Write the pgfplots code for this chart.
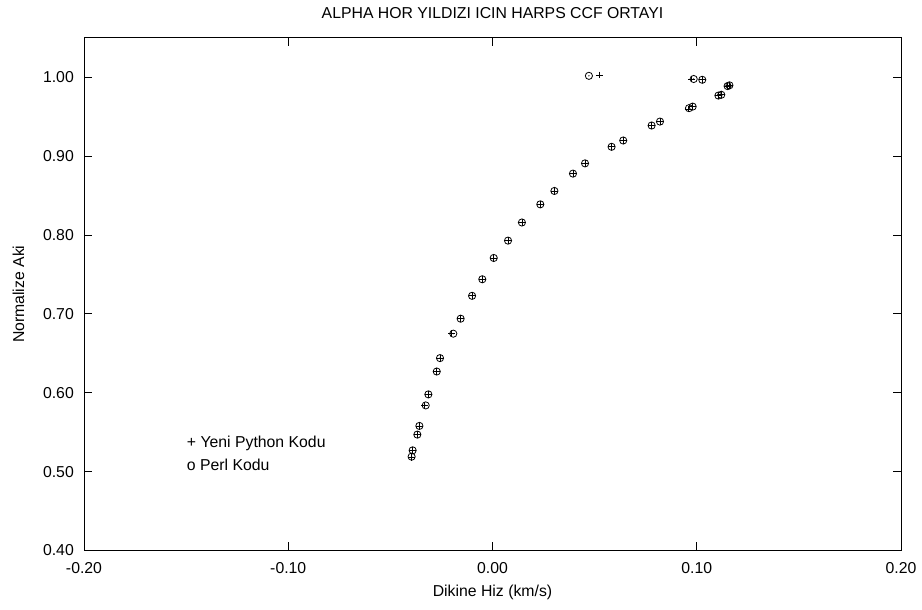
\documentclass[border=0pt]{standalone}
\usepackage{fontspec}
\setmainfont{Liberation Sans}
\usepackage{pgfplots}
\pgfplotsset{compat=1.18}

% circle with a centre dot (Perl points)
\pgfdeclareplotmark{odot}{%
  \pgfpathcircle{\pgfpointorigin}{\pgfplotmarksize}\pgfusepathqstroke
  \pgfpathcircle{\pgfpointorigin}{0.7bp}\pgfusepathqfill}

\pgfplotstableread{
x y
-0.0396 0.519
-0.0391 0.527
-0.0368 0.547
-0.0358 0.558
-0.0327 0.584
-0.0314 0.598
-0.0273 0.627
-0.0257 0.644
-0.0192 0.675
-0.0156 0.694
-0.0100 0.723
-0.0050 0.744
0.0006 0.771
0.0076 0.793
0.0144 0.816
0.0234 0.839
0.0303 0.856
0.0394 0.878
0.0453 0.891
0.0583 0.912
0.0640 0.920
0.0779 0.939
0.0820 0.944
0.0962 0.961
0.0980 0.963
0.1106 0.977
0.1120 0.978
0.1151 0.989
0.1160 0.990
0.0985 0.998
0.1027 0.997
0.0472 1.002
}\perl

\pgfplotstableread{
x y
-0.0398 0.518
-0.0391 0.527
-0.0368 0.547
-0.0358 0.558
-0.0333 0.584
-0.0314 0.598
-0.0273 0.627
-0.0257 0.644
-0.0200 0.675
-0.0156 0.694
-0.0100 0.723
-0.0050 0.744
0.0006 0.771
0.0076 0.793
0.0144 0.816
0.0234 0.839
0.0303 0.856
0.0394 0.878
0.0453 0.891
0.0583 0.912
0.0640 0.920
0.0779 0.939
0.0820 0.944
0.0958 0.960
0.0980 0.963
0.1106 0.977
0.1120 0.978
0.1151 0.989
0.1160 0.990
0.0974 0.998
0.1027 0.997
0.0523 1.003
}\python

\begin{document}
\begin{tikzpicture}
\useasboundingbox (0,0) rectangle (922bp,610bp);
\begin{axis}[
  at={(84bp,59.5bp)}, anchor=south west,
  scale only axis,
  width=817bp, height=512.5bp,
  xmin=-0.2, xmax=0.2,
  ymin=0.4, ymax=1.05,
  xtick={-0.2,-0.1,0,0.1,0.2},
  xticklabels={-0.20,-0.10,0.00,0.10,0.20},
  ytick={0.4,0.5,0.6,0.7,0.8,0.9,1.0},
  yticklabels={0.40,0.50,0.60,0.70,0.80,0.90,1.00},
  tick align=inside,
  major tick length=8bp,
  axis line style={line width=1bp},
  tick style={line width=1bp, black},
  font=\fontsize{15.8bp}{19bp}\selectfont,
  xticklabel style={anchor=base, yshift=-23bp, inner sep=0pt},
  yticklabel style={anchor=east, xshift=-10bp, inner sep=0pt},
  title={ALPHA HOR YILDIZI ICIN HARPS CCF ORTAYI},
  title style={at={(axis description cs:0.5,1.0254)}, anchor=base, inner sep=0pt},
  xlabel={Dikine Hiz (km/s)},
  xlabel style={at={(axis description cs:0.5,-0.0901)}, anchor=base, inner sep=0pt},
  ylabel={Normalize Aki},
  ylabel style={at={(axis description cs:-0.0734,0.5)}, anchor=base, rotate=0, inner sep=0pt},
  clip=false,
]
\addplot[only marks, mark=+, mark size=3.4bp, line width=0.8bp, black] table[x=x, y=y] {\python};
\addplot[only marks, mark=odot, mark size=3.6bp, line width=0.8bp, black] table[x=x, y=y] {\perl};
\node[anchor=base west, inner sep=0pt] at (axis cs:-0.1497,0.5300) {+ Yeni Python Kodu};
\node[anchor=base west, inner sep=0pt] at (axis cs:-0.1497,0.5017) {o Perl Kodu};
\end{axis}
\end{tikzpicture}
\end{document}
